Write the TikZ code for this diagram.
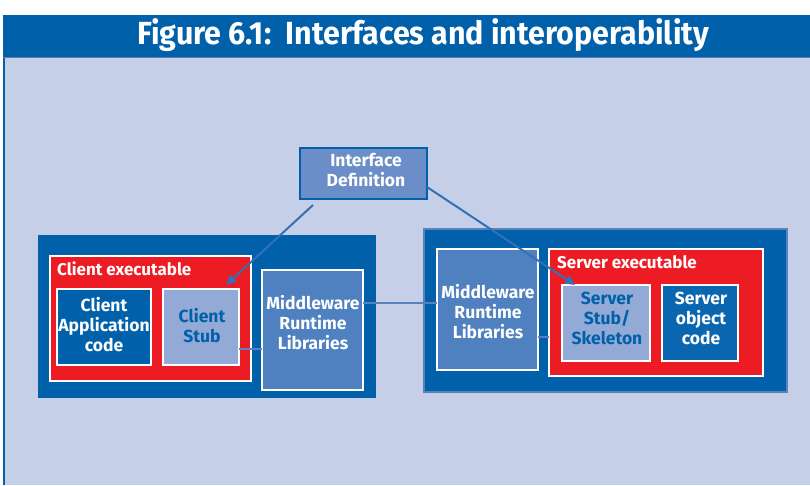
\documentclass[tikz,border=0pt]{standalone}
\usepackage{fontspec}
\setmainfont{Fira Sans}
\usetikzlibrary{arrows.meta}

\definecolor{navy}{HTML}{0060AA}
\definecolor{paleback}{HTML}{C5CFE7}
\definecolor{ifacefill}{HTML}{6B8DC8}
\definecolor{mwfill}{HTML}{4F80C0}
\definecolor{stubfill}{HTML}{94AAD6}
\definecolor{exered}{HTML}{ED1C24}
\definecolor{linkblue}{HTML}{5A80BF}
\definecolor{arrowblue}{HTML}{3470B6}
\definecolor{objfill}{HTML}{0B66B0}

\begin{document}
\begin{tikzpicture}[x=1pt,y=-1pt,
  box/.style={anchor=north west, inner sep=0pt, outer sep=0pt, draw=white, line width=1.5pt},
  txt/.style={align=center, inner sep=0pt, font=\bfseries\fontsize{17.5}{20}\selectfont},
  exelabel/.style={anchor=base west, inner sep=0pt, text=white, font=\bfseries\fontsize{17}{20}\selectfont},
  link/.style={draw=linkblue, line width=2.5pt},
  pointer/.style={draw=arrowblue, line width=2pt, -{Triangle[length=10pt,width=9pt]}}]

\useasboundingbox (0,0) rectangle (810,485);
\fill[white] (0,0) rectangle (810,485);

% page frame and title bar
\fill[paleback] (3,57) rectangle (810,485);
\draw[navy, line width=2pt] (4,57) -- (4,485);
\draw[linkblue, line width=1pt] (3,57.5) -- (810,57.5);
\fill[navy] (3,15) rectangle (810,57);
\node[text=white, inner sep=0pt, font=\bfseries\fontsize{32}{36}\selectfont] (title) at (423,35)
  {\scalebox{0.95}[1]{Figure 6.1:\ \ Interfaces and interoperability}};

% interface definition
\node[box, draw=navy, fill=ifacefill, line width=2pt, minimum width=127, minimum height=51] (iface) at (300,148) {};
\node[txt, text=white] (iface-t) at (366,170) {Interface\\Definition};

% client side
\node[box, draw=none, fill=navy, minimum width=338, minimum height=163] (client) at (38,235) {};
\node[box, fill=exered, minimum width=201, minimum height=125] (cexe) at (50,256) {};
\node[exelabel] (cexe-t) at (57,275) {Client executable};
\node[box, fill=navy, minimum width=94, minimum height=76] (capp) at (57,289) {};
\node[txt, text=white] (capp-t) at (104,325) {Client\\Application\\code};
\node[box, fill=stubfill, minimum width=76, minimum height=76] (cstub) at (163,289) {};
\node[txt, text=navy] (cstub-t) at (202,326) {Client\\Stub};
\node[box, fill=mwfill, minimum width=101, minimum height=120] (cmw) at (262,270) {};
\node[txt, text=white] (cmw-t) at (313,323) {Middleware\\Runtime\\Libraries};

% server side
\node[box, draw=linkblue, fill=navy, minimum width=363, minimum height=163] (server) at (424,229) {};
\node[box, fill=mwfill, minimum width=101, minimum height=121] (smw) at (437,249) {};
\node[txt, text=white] (smw-t) at (488,312) {Middleware\\Runtime\\Libraries};
\node[box, fill=exered, minimum width=214, minimum height=127] (sexe) at (549,249) {};
\node[exelabel] (sexe-t) at (557,268) {Server executable};
\node[box, fill=stubfill, minimum width=88, minimum height=76] (sstub) at (562,285) {};
\node[txt, text=navy] (sstub-t) at (607,318) {Server\\Stub/\\Skeleton};
\node[box, fill=objfill, minimum width=76, minimum height=76] (sobj) at (662,285) {};
\node[txt, text=white] (sobj-t) at (701,318) {Server\\object\\code};

% links between stubs and runtime libraries
\draw[link] (cstub.east |- 0,349) -- (cmw.west |- 0,349);
\draw[link] (cmw.east |- 0,303) -- (smw.west |- 0,303);
\draw[link] (smw.east |- 0,337) -- (sexe.west |- 0,337);

% stubs generated from the interface definition
\coordinate (ifaceleft) at (313,205);
\coordinate (cstubtip) at (226,285);
\coordinate (ifaceright) at (427,187);
\coordinate (sstubtip) at (575,285);
\draw[pointer] (ifaceleft) -- (cstubtip);
\draw[pointer] (ifaceright) -- (sstubtip);
\end{tikzpicture}
\end{document}
